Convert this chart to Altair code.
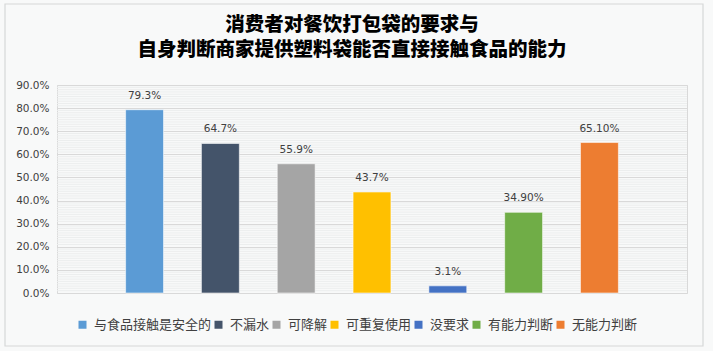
import altair as alt
import pandas as pd

title_lines = ["消费者对餐饮打包袋的要求与", "自身判断商家提供塑料袋能否直接接触食品的能力"]
categories = ["与食品接触是安全的", "不漏水", "可降解", "可重复使用", "没要求", "有能力判断", "无能力判断"]
values = [0.793, 0.647, 0.559, 0.437, 0.031, 0.349, 0.651]
labels = ["79.3%", "64.7%", "55.9%", "43.7%", "3.1%", "34.90%", "65.10%"]
colors = ["#5B9BD5", "#44546A", "#A5A5A5", "#FFC000", "#4472C4", "#70AD47", "#ED7D31"]
major_ticks = [0.0, 0.1, 0.2, 0.3, 0.4, 0.5, 0.6, 0.7, 0.8, 0.9]
minor_ticks = [i / 100 for i in range(1, 90) if i % 10 != 0]

df = pd.DataFrame({"cat": categories, "value": values, "label": labels})
grid_df = pd.DataFrame({"value": minor_ticks})
one_df = pd.DataFrame({"k": [0]})

yscale = alt.Scale(domain=[0, 0.9], nice=False, zero=True)
xscale = alt.Scale(paddingInner=0.5, paddingOuter=0.905)
yaxis = alt.Axis(
    values=major_ticks,
    format=".1%",
    grid=True,
    gridColor="#d9d9d9",
    gridWidth=1,
    domain=False,
    ticks=False,
    labelPadding=8,
    labelFont="DejaVu Sans",
    labelFontSize=10.5,
    labelColor="#404040",
    title=None,
)

minor = alt.Chart(grid_df).mark_rule(color="#eceeee", strokeWidth=1).encode(
    y=alt.Y("value:Q", scale=yscale, axis=yaxis)
)

base = alt.Chart(df)

bars = base.mark_bar(stroke="#ffffff", strokeWidth=0.8, strokeOpacity=0.7).encode(
    x=alt.X("cat:N", sort=categories, scale=xscale, axis=None),
    y=alt.Y("value:Q", scale=yscale, axis=yaxis),
    color=alt.Color(
        "cat:N",
        sort=categories,
        scale=alt.Scale(domain=categories, range=colors),
        legend=alt.Legend(
            title=None,
            orient="none",
            legendX=19,
            legendY=233,
            direction="horizontal",
            columns=7,
            symbolType="square",
            symbolSize=64,
            symbolStrokeWidth=0,
            labelFont="Noto Sans CJK SC",
            labelFontSize=13,
            labelColor="#404040",
            labelOffset=5,
            columnPadding=0,
            padding=0,
        ),
    ),
)

text = base.mark_text(
    baseline="alphabetic", dy=-11, font="DejaVu Sans", fontSize=10.5, color="#404040"
).encode(
    x=alt.X("cat:N", sort=categories, scale=xscale, axis=None),
    y=alt.Y("value:Q", scale=yscale, axis=yaxis),
    text="label:N",
)

title_style = dict(
    font="Noto Sans CJK SC", fontSize=19.5, fontWeight=900,
    color="#000000", align="center", baseline="middle", clip=False,
)
title1 = alt.Chart(one_df).mark_text(text=title_lines[0], **title_style).encode(
    x=alt.value(295), y=alt.value(-60)
)
title2 = alt.Chart(one_df).mark_text(text=title_lines[1], **title_style).encode(
    x=alt.value(295), y=alt.value(-35.5)
)

border = alt.Chart(one_df).mark_rect(fill=None, stroke="#d6d8d8", strokeWidth=1.2, clip=False).encode(
    x=alt.value(-52), x2=alt.value(646), y=alt.value(-81), y2=alt.value(261)
)

chart = (
    alt.layer(minor, bars, text, title1, title2, border)
    .properties(
        width=630,
        height=208,
        autosize=alt.AutoSizeParams(type="none"),
        padding={"left": 57, "top": 85, "right": 26, "bottom": 58},
        background="#f8f9f9",
    )
    .configure_view(stroke="#d9d9d9", strokeWidth=1)
)

chart.save("out.html", embed_options={"renderer": "svg", "actions": False})
